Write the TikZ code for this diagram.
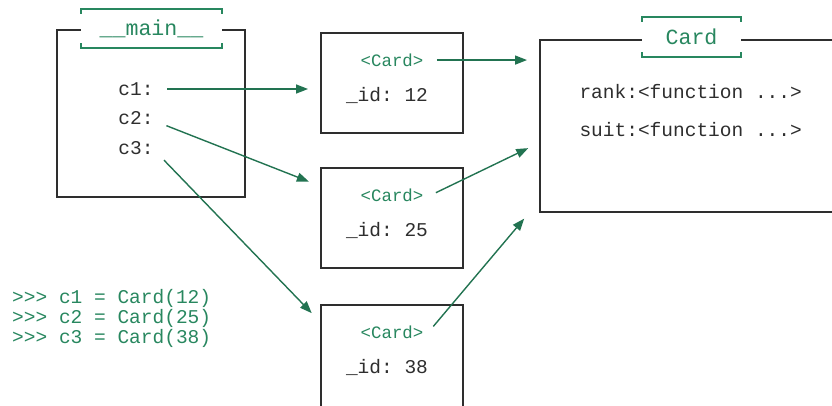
\documentclass[tikz,border=0pt]{standalone}
\usepackage{fontspec}
\setmonofont{Liberation Mono}
\usepackage{xcolor}
\usetikzlibrary{arrows.meta}
\usetikzlibrary{positioning}
\definecolor{mygreen}{RGB}{40,135,95}
\colorlet{mydarkgreen}{mygreen!85!black}
\colorlet{mygray}{black!82}
\newcommand{\brackets}[1]{% #1: title node
    \draw[bracket] ([yshift=-5]#1.north west) -- (#1.north west) -- (#1.north east) -- ([yshift=-5]#1.north east);
    \draw[bracket] ([yshift=5]#1.south west) -- (#1.south west) -- (#1.south east) -- ([yshift=5]#1.south east);
}

\begin{document}
\begin{tikzpicture}[x=1pt, y=-1pt, font=\ttfamily\fontsize{19.5}{22}\selectfont]
    % ------- style -------
    \tikzset{%
        frame/.style={draw=mygray, line width=1.9, fill=white, inner sep=0},
        title/.style={fill=white, text=mygreen, inner sep=0, font=\ttfamily\fontsize{21.6}{24}\selectfont},
        bracket/.style={mygreen, line width=1.8},
        tag/.style={text=mygreen, font=\ttfamily\fontsize{17.4}{20}\selectfont},
        field/.style={text=mygray},
        code/.style={text=mygreen, inner sep=0},
        link/.style={-{Triangle[length=12,width=9]}, mydarkgreen, line width=1.4, shorten <=10, shorten >=12},
    }
    \path[use as bounding box, clip] (0,0) rectangle (832,405);

    % ------- __main__ -------
    \node[frame, minimum width=188, minimum height=167] (main) at (151,113.5) {};
    \node[title, minimum width=141, minimum height=39] (main-title) at (151.5,28.5) {\_\_main\_\_};
    \brackets{main-title}
    \foreach \i/\y in {1/89, 2/118, 3/148} {
        \node[field] (c\i) at (136,\y) {c\i:};
    }

    % ------- instances -------
    \foreach \i/\y/\h/\v in {1/83/100/12, 2/218/100/25, 3/360/110/38} {
        \node[frame, minimum width=142, minimum height=\h] (obj\i) at (392,\y) {};
        \node[tag] (tag\i) at ([yshift=-28]obj\i.north) {<Card>};
        \node[field] (id\i) at ([xshift=-5, yshift=-35]tag\i.center) {\_id: \v};
    }

    % ------- class -------
    \node[frame, minimum width=320, minimum height=172] (cls) at (700,126) {};
    \node[title, minimum width=99, minimum height=40] (cls-title) at (691.5,37) {Card};
    \brackets{cls-title}
    \node[field, anchor=west] (rank) at (576,92) {rank:<function ...>};
    \node[field, anchor=west] (suit) at (576,130) {suit:<function ...>};

    % ------- session -------
    \foreach \i/\v in {1/12, 2/25, 3/38} {
        \node[code, anchor=west] (line\i) at (12,278+20*\i) {>>> c\i{} = Card(\v)};
    }

    % ------- references -------
    \draw[link] (c1.east) -- (c1.east -| obj1.west);
    \draw[link] ([yshift=-4]c2.east) -- (obj2.156);
    \draw[link] ([yshift=-5]c3.east) -- (obj3.152);
    \draw[link] (tag1.east) -- (tag1 -| cls.west);
    \draw[link] ([yshift=-2]tag2.east) -- (cls.186);
    \draw[link, shorten >=23] ([yshift=-2]tag3.east) -- (cls.205);
\end{tikzpicture}
\end{document}
